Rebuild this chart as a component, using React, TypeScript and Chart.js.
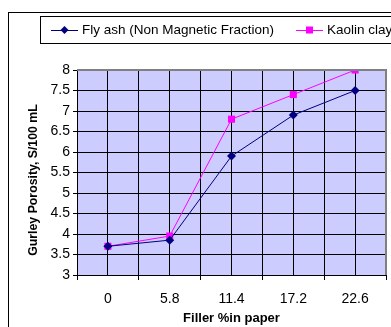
import React, { useEffect, useRef } from "react";
import { Chart, registerables } from "chart.js";

Chart.register(...registerables);

const fillerLabels = ["0", "5.8", "11.4", "17.2", "22.6"];
const flyAshValues = [3.7, 3.85, 5.9, 6.9, 7.5];
const kaolinValues = [3.7, 3.95, 6.8, 7.4, 8.0];
const seriesNames = ["Fly ash (Non Magnetic Fraction)", "Kaolin clay"];
const yAxisTitle = "Gurley Porosity, S/100 mL";
const xAxisTitle = "Filler %in paper";

const FONT = "'Liberation Sans', Arial, sans-serif";
const NAVY = "#000080";
const MAGENTA = "#FF00FF";

// Plot background, grey top/right frame, outer border, y title and the boxed legend
const decorPlugin = {
  id: "decor",
  beforeDraw(chart: any) {
    const { ctx, chartArea: a } = chart;
    ctx.save();
    ctx.fillStyle = "#FFFFFF";
    ctx.fillRect(0, 0, chart.width, chart.height);
    ctx.fillStyle = "#CCCCFF";
    ctx.fillRect(a.left, a.top, a.right - a.left, a.bottom - a.top);
    ctx.restore();
  },
  afterDraw(chart: any) {
    const { ctx, chartArea: a } = chart;
    ctx.save();
    // grey frame on top and right of plot
    ctx.strokeStyle = "#808080";
    ctx.lineWidth = 2;
    ctx.beginPath();
    ctx.moveTo(a.left, a.top);
    ctx.lineTo(a.right, a.top);
    ctx.lineTo(a.right, a.bottom);
    ctx.stroke();

    // outer chart border
    ctx.strokeStyle = "#000000";
    ctx.lineWidth = 1;
    ctx.strokeRect(8.5, 12.5, 420, 330);

    // rotated y-axis title
    ctx.save();
    ctx.translate(34, 180);
    ctx.rotate(-Math.PI / 2);
    ctx.font = `bold 12.3px ${FONT}`;
    ctx.fillStyle = "#000000";
    ctx.textAlign = "center";
    ctx.textBaseline = "middle";
    ctx.fillText(yAxisTitle, 0, 0);
    ctx.restore();

    // legend box
    ctx.strokeStyle = "#000000";
    ctx.lineWidth = 1;
    ctx.strokeRect(40.5, 16.5, 400, 27);
    const ly = 30;
    const items = [
      { x: 51, color: NAVY, shape: "diamond", text: seriesNames[0] },
      { x: 296, color: MAGENTA, shape: "square", text: seriesNames[1] },
    ];
    ctx.font = `13.5px ${FONT}`;
    ctx.textBaseline = "middle";
    ctx.textAlign = "left";
    for (const it of items) {
      ctx.strokeStyle = it.color;
      ctx.lineWidth = 1;
      ctx.beginPath();
      ctx.moveTo(it.x, ly + 0.5);
      ctx.lineTo(it.x + 27, ly + 0.5);
      ctx.stroke();
      ctx.fillStyle = it.color;
      const cx = it.x + 13.5;
      if (it.shape === "diamond") {
        ctx.beginPath();
        ctx.moveTo(cx, ly - 4);
        ctx.lineTo(cx + 4, ly);
        ctx.lineTo(cx, ly + 4);
        ctx.lineTo(cx - 4, ly);
        ctx.closePath();
        ctx.fill();
      } else {
        ctx.fillRect(cx - 3.5, ly - 3.5, 7, 7);
      }
      ctx.fillStyle = "#000000";
      ctx.fillText(it.text, it.x + 31, ly);
    }
    ctx.restore();
  },
};

export default function App() {
  const ref = useRef<HTMLCanvasElement>(null);

  useEffect(() => {
    if (!ref.current) return;
    const chart = new Chart(ref.current, {
      type: "line",
      data: {
        datasets: [
          {
            label: seriesNames[0],
            data: flyAshValues.map((y, i) => ({ x: i, y })),
            borderColor: NAVY,
            backgroundColor: NAVY,
            borderWidth: 1,
            pointStyle: "rectRot",
            pointRadius: 4.5,
            pointBorderWidth: 0,
            tension: 0,
          },
          {
            label: seriesNames[1],
            data: kaolinValues.map((y, i) => ({ x: i, y })),
            borderColor: MAGENTA,
            backgroundColor: MAGENTA,
            borderWidth: 1,
            pointStyle: "rect",
            pointRadius: 5,
            pointBorderWidth: 0,
            tension: 0,
          },
        ],
      },
      options: {
        responsive: false,
        animation: false,
        layout: { padding: { left: 0, top: 70, right: 2, bottom: 0 } },
        plugins: { legend: { display: false }, tooltip: { enabled: false } },
        scales: {
          x: {
            type: "linear",
            min: -0.5,
            max: 4.5,
            afterFit: (s: any) => {
              s.height = 52;
              s.paddingLeft = 0;
              s.paddingRight = 0;
            },
            afterBuildTicks: (s: any) => {
              const t = [];
              for (let v = -0.5; v <= 4.5 + 1e-9; v += 0.5) t.push({ value: v });
              s.ticks = t;
            },
            ticks: {
              autoSkip: false,
              maxRotation: 0,
              padding: 11,
              color: "#000000",
              font: { family: FONT, size: 14 },
              callback: (v: any) => {
                const n = Number(v);
                return Number.isInteger(n) ? fillerLabels[n] : "";
              },
            },
            grid: {
              color: (c: any) => (c.tick && c.tick.value >= 4.5 ? "rgba(0,0,0,0)" : "#000000"),
              tickColor: (c: any) =>
                c.tick && !Number.isInteger(c.tick.value) ? "#000000" : "rgba(0,0,0,0)",
              tickLength: 5,
              lineWidth: 1,
            },
            border: { color: "#000000", width: 1 },
            title: {
              display: true,
              text: xAxisTitle,
              color: "#000000",
              font: { family: FONT, size: 13, weight: "bold" },
              padding: { top: 0, bottom: 0.5 },
            },
          },
          y: {
            min: 3,
            max: 8,
            afterFit: (s: any) => {
              s.width = 77;
            },
            ticks: {
              stepSize: 0.5,
              padding: 3,
              color: "#000000",
              font: { family: FONT, size: 14 },
              callback: (v: any) => String(Number(v)),
            },
            grid: {
              color: (c: any) => (c.tick && c.tick.value >= 8 ? "rgba(0,0,0,0)" : "#000000"),
              tickColor: "#000000",
              tickLength: 4,
              lineWidth: 1,
            },
            border: { color: "#000000", width: 1 },
            title: { display: false },
          },
        },
      },
      plugins: [decorPlugin],
    });
    return () => chart.destroy();
  }, []);

  return (
    <div style={{ position: "fixed", left: 0, top: 0, width: 391, height: 327, background: "#fff" }}>
      <canvas ref={ref} width={391} height={327} style={{ display: "block" }} />
    </div>
  );
}
